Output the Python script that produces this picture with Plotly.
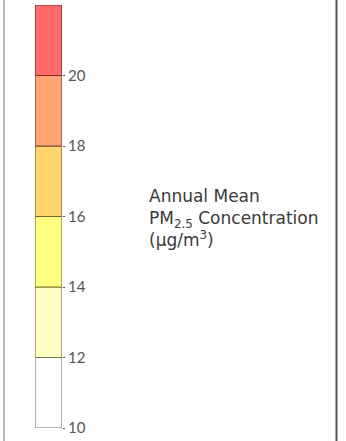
import plotly.graph_objects as go

# Data
bin_starts = [10, 12, 14, 16, 18, 20]
bin_sizes = [2, 2, 2, 2, 2, 2]
bin_colors = ["#FFFFFF", "#FFFFC2", "#FFFF80", "#FFD56E", "#FFA370", "#FF6B6B"]
bin_edges = ["#808080", "#77774A", "#7A7535", "#7A5E30", "#7A3E22", "#7E2222"]
tick_vals = [10, 12, 14, 16, 18, 20]
tick_text = ["10", "12", "14", "16", "18", "20"]
title_text = "Annual Mean<br>PM<sub>2.5</sub> Concentration<br>(µg/m<sup>3</sup>)"

W, H = 346, 441
L, R, T, B = 35, 62, 5, 433

fig = go.Figure()
for s, sz, c, e in zip(bin_starts, bin_sizes, bin_colors, bin_edges):
    fig.add_trace(go.Bar(
        x=[0], y=[sz], base=[s], width=[1],
        marker=dict(color=c, line=dict(color=e, width=1.2)),
        showlegend=False, hoverinfo="skip",
    ))

pw = R - L
def px_to_paper(x):
    return (x - L) / pw

fig.update_layout(
    width=W, height=H,
    margin=dict(l=L, r=W - R, t=T, b=H - B, pad=0),
    paper_bgcolor="white", plot_bgcolor="white",
    barmode="overlay", bargap=0,
    font=dict(family="Lato, Open Sans, sans-serif", color="#444"),
    xaxis=dict(range=[-0.5, 0.5], visible=False, fixedrange=True),
    yaxis=dict(range=[10, 22], side="right", tickvals=tick_vals, ticktext=tick_text,
               ticks="outside", ticklen=2, tickcolor="#555", tickwidth=1,
               ticklabeloverflow="allow",
               showgrid=False, zeroline=False, showline=False,
               tickfont=dict(size=15, color="#555"), fixedrange=True),
    shapes=[
        dict(type="line", xref="paper", yref="paper", x0=px_to_paper(4), x1=px_to_paper(4),
             y0=-10, y1=10, line=dict(color="#BBBBBB", width=2)),
        dict(type="line", xref="paper", yref="paper", x0=px_to_paper(336.5), x1=px_to_paper(336.5),
             y0=-10, y1=10, line=dict(color="#555555", width=2)),
    ],
    annotations=[dict(
        text=title_text, xref="paper", yref="paper",
        x=px_to_paper(147), y=(B - 221) / (B - T),
        xanchor="left", yanchor="middle", align="left", showarrow=False,
        font=dict(family="DejaVu Sans, sans-serif", size=17, color="#3a3a3a"),
    )],
)

fig.write_html("out.html", config={"displayModeBar": False, "staticPlot": True},
               post_script="document.body.style.margin='0';document.body.style.padding='0';")
